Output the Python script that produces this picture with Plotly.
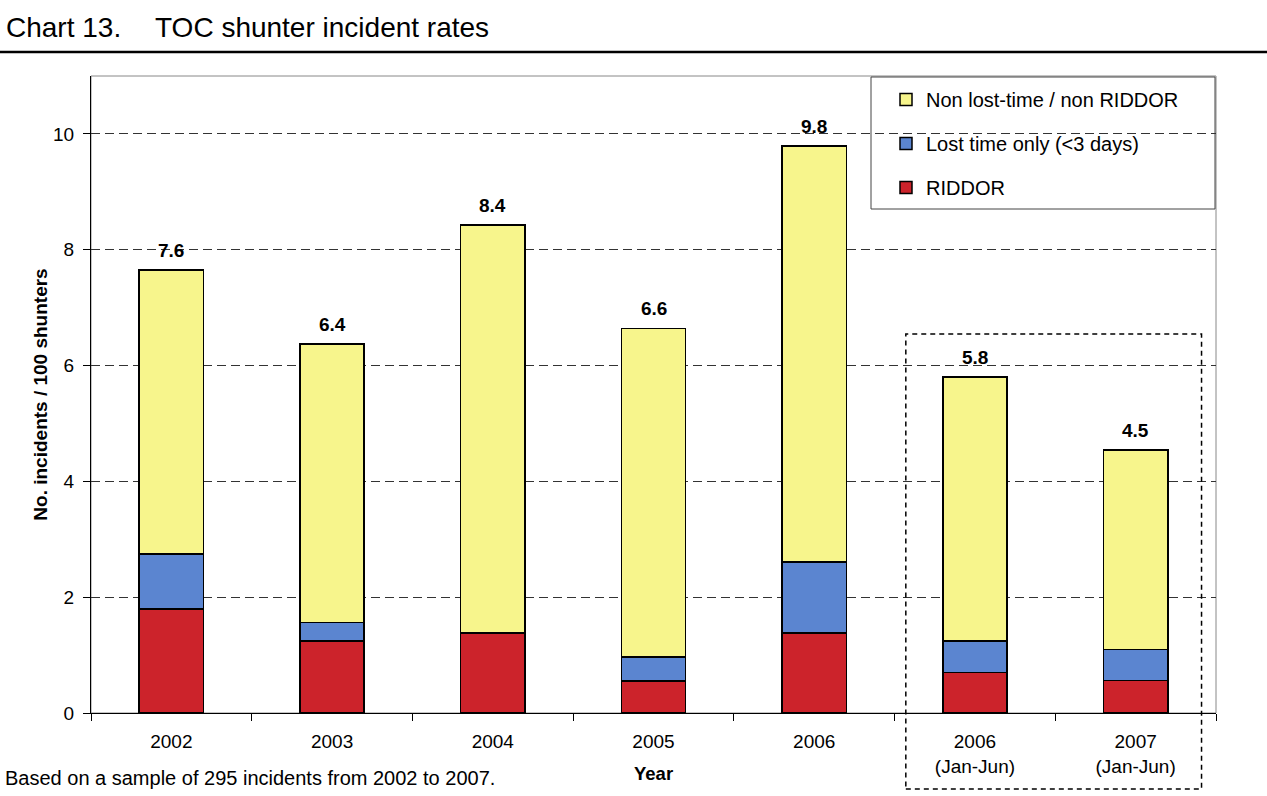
import plotly.graph_objects as go

categories = ["2002", "2003", "2004", "2005", "2006", "2006<br>(Jan-Jun)", "2007<br>(Jan-Jun)"]
riddor = [1.80, 1.24, 1.38, 0.55, 1.38, 0.70, 0.56]
lost_time = [0.95, 0.32, 0.00, 0.42, 1.23, 0.54, 0.54]
non_lost = [4.90, 4.81, 7.05, 5.67, 7.18, 4.56, 3.44]
total_labels = ["7.6", "6.4", "8.4", "6.6", "9.8", "5.8", "4.5"]

totals = [r + l + n for r, l, n in zip(riddor, lost_time, non_lost)]

FONT = "Liberation Sans, Arial, sans-serif"
line = dict(color="#000000", width=1.5)
PW, PH = 1125, 637  # plot area size in px

fig = go.Figure()
fig.add_trace(go.Bar(x=categories, y=riddor, name="RIDDOR", legendgroup="r", legendrank=3,
                     marker=dict(color="#CC232B", line=line), width=0.4))
fig.add_trace(go.Bar(x=categories, y=lost_time, name="Lost time only (<3 days)", legendgroup="l",
                     legendrank=2, marker=dict(color="#5B85D0", line=line), width=0.4))
fig.add_trace(go.Bar(x=categories, y=non_lost, name="Non lost-time / non RIDDOR", legendgroup="n",
                     legendrank=1, marker=dict(color="#F7F58C", line=line), width=0.4))

annotations = [
    dict(x=i, y=t, text="<b>%s</b>" % lab, xref="x", yref="y", showarrow=False,
         yanchor="bottom", yshift=7, font=dict(size=19, color="#000000"))
    for i, (t, lab) in enumerate(zip(totals, total_labels))
]
annotations += [
    dict(text="Chart 13.", xref="paper", yref="paper",
         x=-87/PW, y=1 + 49/PH, xanchor="left", yanchor="middle", showarrow=False,
         font=dict(size=28, color="#000000")),
    dict(text="TOC shunter incident rates", xref="paper", yref="paper",
         x=(153-91)/PW, y=1 + 49/PH, xanchor="left", yanchor="middle", showarrow=False,
         font=dict(size=28, color="#000000")),
    dict(text="<b>Year</b>", xref="paper", yref="paper", x=0.5, y=-60/PH,
         xanchor="center", yanchor="middle", showarrow=False, font=dict(size=18.5)),
    dict(text="Based on a sample of 295 incidents from 2002 to 2007.", xref="paper", yref="paper",
         x=-88/PW, y=-65/PH, xanchor="left", yanchor="middle", showarrow=False,
         font=dict(size=20)),
]

fig.update_layout(
    width=1267, height=796,
    margin=dict(l=91, r=51, t=76, b=83),
    barmode="stack",
    plot_bgcolor="#FFFFFF", paper_bgcolor="#FFFFFF",
    font=dict(family=FONT, size=19, color="#000000"),
    showlegend=True,
    legend=dict(
        x=(886-91)/PW, y=(713-80)/PH, xanchor="left", yanchor="top",
        traceorder="grouped", bgcolor="rgba(0,0,0,0)", borderwidth=0,
        font=dict(family=FONT, size=20, color="#000000"),
        itemwidth=30, tracegroupgap=15,
    ),
    xaxis=dict(
        type="category", tickson="boundaries", ticks="outside", ticklen=7,
        tickcolor="#000000", showline=True, linecolor="#000000", linewidth=1,
        showgrid=False, tickfont=dict(size=19), ticklabelstandoff=11,
        range=[-0.5, 6.5],
    ),
    yaxis=dict(
        range=[0, 11], tickvals=[0, 2, 4, 6, 8, 10], ticks="outside", ticklen=7,
        tickcolor="#000000", showline=True, linecolor="#000000", linewidth=1,
        showgrid=True, gridcolor="#333333", griddash="9px,5px", gridwidth=1,
        zeroline=False, tickfont=dict(size=19), ticklabelstandoff=5,
        title=dict(text="<b>No. incidents / 100 shunters</b>", font=dict(size=19), standoff=0),
    ),
    shapes=[
        dict(type="line", xref="paper", yref="paper", x0=-91/PW, x1=1176/PW,
             y0=1 + 24/PH, y1=1 + 24/PH, line=dict(color="#000000", width=2.5)),
        dict(type="rect", xref="paper", yref="paper", x0=0, x1=1, y0=0, y1=1,
             line=dict(color="#888888", width=1), layer="below"),
        dict(type="rect", xref="paper", yref="paper", x0=(871-91)/PW, x1=(1215-91)/PW,
             y0=(713-209)/PH, y1=(713-77)/PH, line=dict(color="#444444", width=1),
             fillcolor="#FFFFFF", layer="below"),
        dict(type="rect", xref="x", yref="paper", x0=4.57, x1=6.41,
             y0=-76/PH, y1=(713-334)/PH, line=dict(color="#000000", width=1.5, dash="5px,4px")),
    ],
    annotations=annotations,
)

fig.write_html("out.html", config={"displayModeBar": False},
               post_script="document.body.style.margin='0px';")
